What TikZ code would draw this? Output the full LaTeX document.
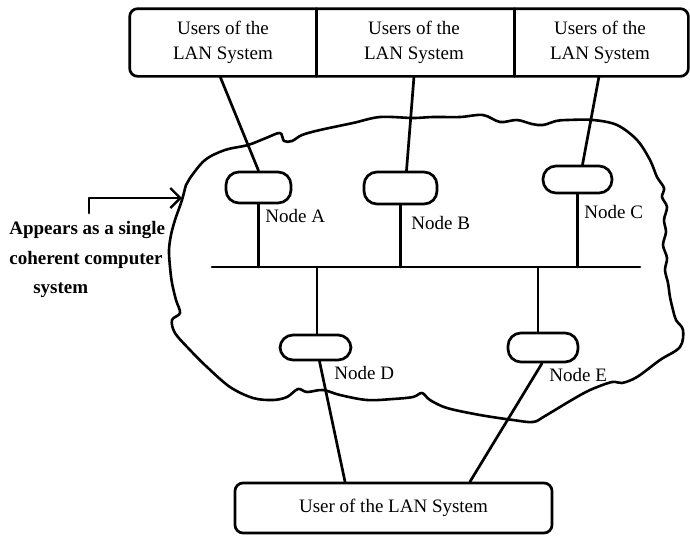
\documentclass[tikz,border=0pt]{standalone}
\usepackage{fontspec}
\setmainfont{Liberation Serif}
\usetikzlibrary{arrows.meta}
\begin{document}
\begin{tikzpicture}[x={(1pt,0pt)},y={(0pt,-1pt)},
  line width=2.7pt, line join=round, line cap=round,
  txt/.style={font=\fontsize{19}{25}\selectfont, inner sep=0pt},
  cell/.style={txt, minimum height=65pt, align=center},
  oval/.style={draw, rounded corners=13pt, inner sep=0pt},
  lbl/.style={txt, anchor=west},
  side/.style={font=\bfseries\fontsize{19}{25}\selectfont, inner sep=0pt, anchor=west}]
\useasboundingbox (0,0) rectangle (690,536);
% top row of user boxes
\node[cell, minimum width=184pt] (u1) at (223,42.5) {Users of the\\LAN System};
\node[cell, minimum width=198pt] (u2) at (414,42.5) {Users of the\\LAN System};
\node[cell, minimum width=174pt] (u3) at (600,42.5) {Users of the\\LAN System};
\draw[rounded corners=8pt] (u1.north west) rectangle (u3.south east);
\draw (u1.north east) -- (u1.south east);
\draw (u2.north east) -- (u2.south east);
% cloud
\draw[line width=2.6pt] plot[smooth cycle, tension=0.55] coordinates {
(190,178) (205,160) (225,150) (248,145) (266,138) (280,133) (284,141) (292,141) (302,135)
(320,130) (353,123) (380,117) (413,118) (433,117) (460,117) (483,115) (500,122) (517,120)
(532,124) (543,125) (556,121) (567,120) (593,120) (617,125) (637,140) (650,160) (657,177)
(664,188) (662,197) (667,207) (664,220) (666,232) (663,245) (667,258) (665,270) (668,283)
(670,297) (673,310) (676,320) (683,330) (680,347) (660,360) (637,377) (622,383) (612,382)
(590,390) (570,401) (545,416) (533,422) (513,420) (480,415) (447,408) (430,400) (422,393)
(413,397) (393,399) (367,400) (340,395) (323,390) (307,392) (298,389) (287,397) (273,400)
(253,398) (230,387) (207,367) (190,350) (175,333) (172,320) (180,313) (176,300) (172,283)
(170,267) (169,250) (171,235) (175,220) (182,200) (186,185)};
% node ovals
\node[oval, minimum width=65pt, minimum height=31pt] (A) at (258.5,187.5) {};
\node[oval, minimum width=73pt, minimum height=32pt] (B) at (400.5,188) {};
\node[oval, minimum width=69pt, minimum height=27pt] (C) at (577.5,179.5) {};
\node[oval, minimum width=71pt, minimum height=25pt] (D) at (315.5,347.5) {};
\node[oval, minimum width=70pt, minimum height=29pt] (E) at (543,347.5) {};
% bus
\coordinate (busL) at (212,267);
\coordinate (busR) at (640,267);
\draw (busL) -- (busR);
\draw (A.south) -- (A.south |- busL);
\draw (B.south) -- (B.south |- busL);
\draw (C.south) -- (C.south |- busL);
\draw ([xshift=1.5pt]D.north) -- ([xshift=1.5pt]D.north |- busL);
\draw ([xshift=-5pt]E.north) -- ([xshift=-5pt]E.north |- busL);
% links to top users
\draw ([xshift=-3pt]u1.south) -- (A.north);
\draw (u2.south) -- ([xshift=6pt]B.north);
\draw ([xshift=-1pt]u3.south) -- ([xshift=5pt]C.north);
% bottom user box
\node[txt, draw, rounded corners=8pt, minimum width=317pt, minimum height=50pt] (bot) at (393.5,508) {User of the LAN System};
\draw ([xshift=4pt]D.south) -- ([xshift=-48.5pt]bot.north);
\draw ([xshift=-1pt]E.south) -- ([xshift=76.5pt]bot.north);
% labels
\node[lbl] (la) at (264,216) {Node A};
\node[lbl] (lb) at (410,223) {Node B};
\node[lbl] (lc) at (583,212) {Node C};
\node[lbl] (ld) at (333,373) {Node D};
\node[lbl] (le) at (548,375) {Node E};
% side text and arrow
\node[side] (t1) at (8,230) {Appears as a single};
\node[side] (t2) at (8,260) {coherent computer};
\node[side] (t3) at (32,290) {system};
\coordinate (arrS) at (89,213);
\coordinate (arrE) at (182,198);
\draw[-{Straight Barb[length=10pt,width=20pt,line width=2.4pt]}] (arrS) |- (arrE);
\end{tikzpicture}
\end{document}
